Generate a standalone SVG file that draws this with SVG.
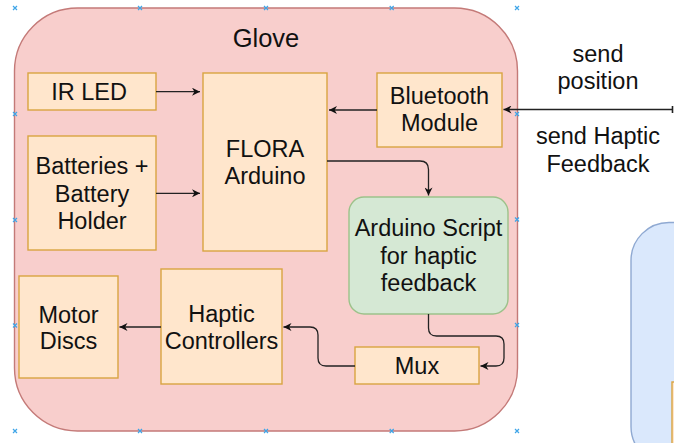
<svg xmlns="http://www.w3.org/2000/svg" width="681" height="443" viewBox="0 0 681 443">
  <defs>
    <style>
      .lbl { font-family: "Liberation Sans", Arial, Helvetica, sans-serif; font-size: 23.5px; fill: #111; text-anchor: middle; }
      .title { font-size: 25.5px; }
      .orange { fill: #ffe6cc; stroke: #d9a441; stroke-width: 1.4; }
      .green { fill: #d5e8d4; stroke: #9cc28a; stroke-width: 1.4; }
      .pink { fill: #f8cecc; stroke: #c47a78; stroke-width: 1.4; }
      .blue { fill: #dae8fc; stroke: #8fa9d2; stroke-width: 1.4; }
      .edge { fill: none; stroke: #222; stroke-width: 1.3; }
      .handle { fill: none; stroke: #3fa5e8; stroke-width: 1.2; }
    </style>
    <marker id="arrow" viewBox="0 0 10 10" refX="10" refY="5" markerWidth="9" markerHeight="8" markerUnits="userSpaceOnUse" orient="auto-start-reverse">
      <path d="M0,0 L10,5 L0,10 L3,5 Z" fill="#111"/>
    </marker>
    <symbol id="x" viewBox="-3 -3 6 6" width="6" height="6" overflow="visible">
      <path class="handle" d="M-2,-2 L2,2 M-2,2 L2,-2"/>
    </symbol>
  </defs>

  <rect width="681" height="443" fill="#ffffff"/>

  <!-- Glove container -->
  <g id="glove">
    <rect class="pink" x="14.5" y="8" width="503" height="423" rx="63" ry="63"/>
    <text class="lbl title" x="266" y="47">Glove</text>
  </g>

  <!-- second container, partly off the right edge -->
  <g id="host">
    <rect class="blue" x="631" y="222.5" width="90" height="242" rx="38" ry="38"/>
    <rect class="orange" x="672" y="382" width="30" height="80"/>
  </g>

  <g id="ir-led">
    <rect class="orange" x="28" y="73" width="128" height="37"/>
    <text class="lbl" x="89" y="99.5">IR LED</text>
  </g>

  <g id="batteries">
    <rect class="orange" x="28" y="136" width="128" height="114"/>
    <text class="lbl" x="92" y="174">Batteries +</text>
    <text class="lbl" x="92" y="201.5">Battery</text>
    <text class="lbl" x="92" y="228.5">Holder</text>
  </g>

  <g id="flora">
    <rect class="orange" x="203" y="73" width="124" height="178"/>
    <text class="lbl" x="265" y="157">FLORA</text>
    <text class="lbl" x="265" y="183.5">Arduino</text>
  </g>

  <g id="bluetooth">
    <rect class="orange" x="377" y="73" width="125" height="74"/>
    <text class="lbl" x="439.5" y="104">Bluetooth</text>
    <text class="lbl" x="439.5" y="130.5">Module</text>
  </g>

  <g id="script">
    <rect class="green" x="349" y="197" width="159" height="117" rx="15" ry="15"/>
    <text class="lbl" x="428.5" y="236">Arduino Script</text>
    <text class="lbl" x="428.5" y="263.5">for haptic</text>
    <text class="lbl" x="428.5" y="290.5">feedback</text>
  </g>

  <g id="mux">
    <rect class="orange" x="355" y="347" width="124" height="37"/>
    <text class="lbl" x="417" y="374">Mux</text>
  </g>

  <g id="haptic-controllers">
    <rect class="orange" x="161" y="269" width="121" height="115"/>
    <text class="lbl" x="221.5" y="321.5">Haptic</text>
    <text class="lbl" x="221.5" y="349">Controllers</text>
  </g>

  <g id="motor-discs">
    <rect class="orange" x="19" y="276" width="99" height="102"/>
    <text class="lbl" x="68.5" y="322.5">Motor</text>
    <text class="lbl" x="68.5" y="349">Discs</text>
  </g>

  <!-- link labels -->
  <g id="link-labels">
    <text class="lbl" x="598" y="62">send</text>
    <text class="lbl" x="598" y="89">position</text>
    <text class="lbl" x="598" y="144">send Haptic</text>
    <text class="lbl" x="598" y="171.5">Feedback</text>
  </g>

  <!-- connectors -->
  <g id="connectors">
    <path class="edge" d="M156,91.7 H200" marker-end="url(#arrow)"/>
    <path class="edge" d="M156,193.3 H200" marker-end="url(#arrow)"/>
    <path class="edge" d="M377,110 H329" marker-end="url(#arrow)"/>
    <path class="edge" d="M327,161 H420 Q428.5,161 428.5,169.5 V195.5" marker-end="url(#arrow)"/>
    <path class="edge" d="M428.5,314 V328 Q428.5,336 436.5,336 H496 Q504,336 504,344 V358 Q504,366 496,366 H480.5" marker-end="url(#arrow)"/>
    <path class="edge" d="M355,366 H326 Q318,366 318,358 V335 Q318,327 310,327 H283.5" marker-end="url(#arrow)"/>
    <path class="edge" d="M161,327 H119.5" marker-end="url(#arrow)"/>
    <path class="edge" d="M672.5,109.5 H503.5" marker-end="url(#arrow)"/>
    <path d="M672.5,106 V113" stroke="#222" stroke-width="1.6"/>
  </g>

  <!-- blank margin past the right crop line -->
  <rect x="674" y="0" width="7" height="443" fill="#ffffff"/>

  <!-- connection-point handles of the glove container -->
  <g id="handles">
    <use href="#x" x="12" y="5"/>
    <use href="#x" x="137" y="5"/>
    <use href="#x" x="263" y="5"/>
    <use href="#x" x="388.7" y="5"/>
    <use href="#x" x="514" y="5"/>
    <use href="#x" x="12" y="111"/>
    <use href="#x" x="514" y="111"/>
    <use href="#x" x="12" y="217"/>
    <use href="#x" x="514" y="216.5"/>
    <use href="#x" x="12" y="322.5"/>
    <use href="#x" x="514" y="322"/>
    <use href="#x" x="12" y="428"/>
    <use href="#x" x="137" y="428"/>
    <use href="#x" x="263" y="428"/>
    <use href="#x" x="388.7" y="428"/>
    <use href="#x" x="514" y="428"/>
  </g>
</svg>
